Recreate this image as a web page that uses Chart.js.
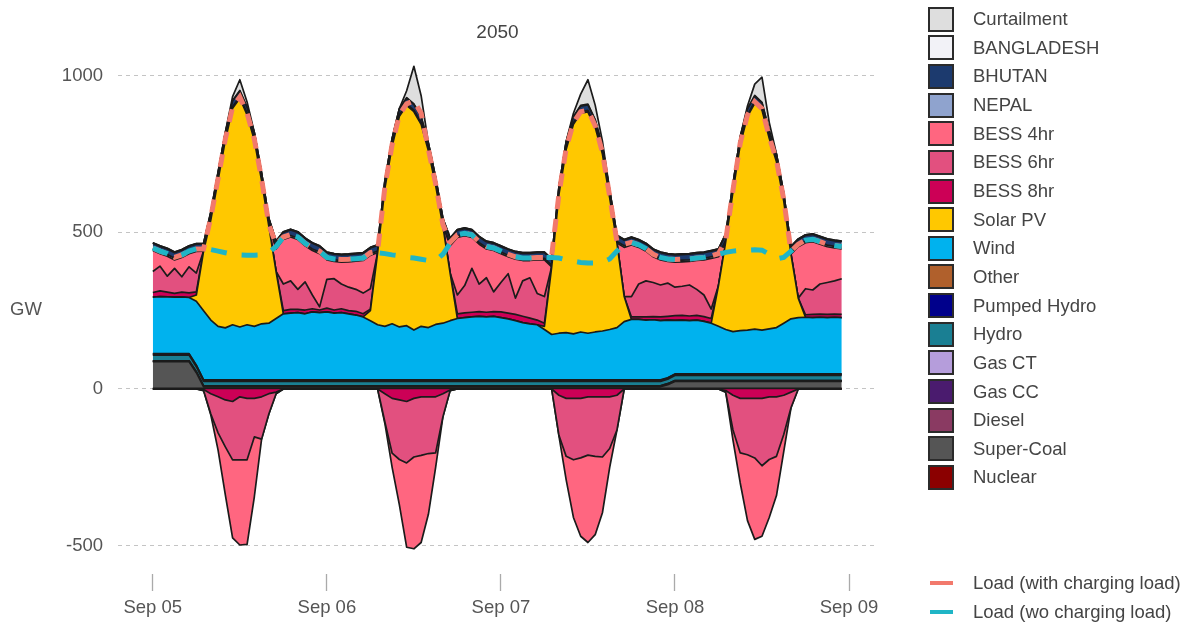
<!DOCTYPE html>
<html>
<head>
<meta charset="utf-8">
<script src="https://cdn.jsdelivr.net/npm/chart.js@4.4.1/dist/chart.umd.min.js"></script>
<style>
html,body{margin:0;padding:0;background:#ffffff;}
#wrap{position:relative;width:1191px;height:630px;overflow:hidden;font-family:"Liberation Sans",Arial,sans-serif;}
#c{position:absolute;left:0;top:0;}
#gw{position:absolute;left:10px;top:298px;font-size:18.5px;color:#555;}
.li{position:absolute;left:928px;height:25px;display:flex;align-items:center;white-space:nowrap;}
.sw{width:26px;height:25px;box-sizing:border-box;border:2px solid #2b2b2b;}
.tx{position:absolute;left:45px;font-size:18.5px;color:#444;}
.ln{width:23px;height:4px;}
</style>
</head>
<body>
<div id="wrap">
<canvas id="c" width="1191" height="630"></canvas>
<div id="gw">GW</div>
<div id="legend"></div>
</div>
<script>
// ---- categories: hourly steps from Sep 05 00:00 (hour index) ----
const hours = Array.from({length: 96}, (_, i) => i);
const tickHours = [0, 24, 48, 72, 96];
const tickLabels = ['Sep 05', 'Sep 06', 'Sep 07', 'Sep 08', 'Sep 09'];
const yTicks = [-500, 0, 500, 1000];
const yTickLabels = ['-500', '0', '500', '1000'];

// ---- series values (GW) ----
const nuclear = [
2,2,2,2,2,2,2,2,2,2,2,2, 2,2,2,2,2,2,2,2,2,2,2,2, 2,2,2,2,2,2,2,2,2,2,2,2, 2,2,2,2,2,2,2,2,2,2,2,2,
2,2,2,2,2,2,2,2,2,2,2,2, 2,2,2,2,2,2,2,2,2,2,2,2, 2,2,2,2,2,2,2,2,2,2,2,2, 2,2,2,2,2,2,2,2,2,2,2,2];
const superCoal = [
85,85,85,85,85,85,50,5,5,5,5,5, 5,5,5,5,5,5,5,5,5,5,5,5, 5,5,5,5,5,5,5,5,5,5,5,5, 5,5,5,5,5,5,5,5,5,5,5,5,
5,5,5,5,5,5,5,5,5,5,5,5, 5,5,5,5,5,5,5,5,5,5,5,12, 22,22,22,22,22,22,22,22,22,22,22,22, 22,22,22,22,22,22,22,22,22,22,22,22];
const diesel = [
1,1,1,1,1,1,1,1,1,1,1,1, 1,1,1,1,1,1,1,1,1,1,1,1, 1,1,1,1,1,1,1,1,1,1,1,1, 1,1,1,1,1,1,1,1,1,1,1,1,
1,1,1,1,1,1,1,1,1,1,1,1, 1,1,1,1,1,1,1,1,1,1,1,1, 1,1,1,1,1,1,1,1,1,1,1,1, 1,1,1,1,1,1,1,1,1,1,1,1];
const gasCC = [
2,2,2,2,2,2,2,2,2,2,2,2, 2,2,2,2,2,2,2,2,2,2,2,2, 2,2,2,2,2,2,2,2,2,2,2,2, 2,2,2,2,2,2,2,2,2,2,2,2,
2,2,2,2,2,2,2,2,2,2,2,2, 2,2,2,2,2,2,2,2,2,2,2,2, 2,2,2,2,2,2,2,2,2,2,2,2, 2,2,2,2,2,2,2,2,2,2,2,2];
const gasCT = [
0,0,0,0,0,0,0,0,0,0,0,0, 0,0,0,0,0,0,0,0,0,0,0,0, 0,0,0,0,0,0,0,0,0,0,0,0, 0,0,0,0,0,0,0,0,0,0,0,0,
0,0,0,0,0,0,0,0,0,0,0,0, 0,0,0,0,0,0,0,0,0,0,0,0, 0,0,0,0,0,0,0,0,0,0,0,0, 0,0,0,0,0,0,0,0,0,0,0,0];
const hydro = [
18,18,18,18,18,18,16,14,14,14,14,14, 14,14,14,14,14,14,14,14,14,14,14,14, 14,14,14,14,14,14,14,14,14,14,14,14, 14,14,14,14,14,14,14,14,14,14,14,14,
14,14,14,14,14,14,14,14,14,14,14,14, 14,14,14,14,14,14,14,14,14,14,14,14, 16,16,16,16,16,16,16,16,16,16,16,16, 16,16,16,16,16,16,16,16,16,16,16,16];
const pumpedHydro = [
4,4,4,4,4,4,4,4,4,4,4,4, 4,4,4,4,4,4,4,4,4,4,4,4, 4,4,4,4,4,4,4,4,4,4,4,4, 4,4,4,4,4,4,4,4,4,4,4,4,
4,4,4,4,4,4,4,4,4,4,4,4, 4,4,4,4,4,4,4,4,4,4,4,4, 4,4,4,4,4,4,4,4,4,4,4,4, 4,4,4,4,4,4,4,4,4,4,4,4];
const other = [
1,1,1,1,1,1,1,1,1,1,1,1, 1,1,1,1,1,1,1,1,1,1,1,1, 1,1,1,1,1,1,1,1,1,1,1,1, 1,1,1,1,1,1,1,1,1,1,1,1,
1,1,1,1,1,1,1,1,1,1,1,1, 1,1,1,1,1,1,1,1,1,1,1,1, 1,1,1,1,1,1,1,1,1,1,1,1, 1,1,1,1,1,1,1,1,1,1,1,1];
const wind = [
180,182,181,180,181,179,204,221,191,171,166,176,
169,176,171,179,181,196,211,213,215,211,217,215,
217,213,215,211,207,201,189,176,171,179,169,173,
159,171,167,177,181,189,196,199,201,203,201,203,
199,195,189,183,179,176,161,145,149,151,147,153,
149,153,156,161,167,186,193,193,191,192,189,184,
171,172,170,172,168,162,152,142,135,138,140,143,
140,144,148,162,176,180,181,180,181,180,181,180];
const solarPV = [
0,0,0,0,0,0,20,190,320,467,599,691,
730,670,594,457,310,150,0,0,0,0,0,0,
0,0,0,0,0,0,32,230,440,567,672,703,
697,645,564,444,310,152,0,0,0,0,0,0,
0,0,0,0,0,0,10,216,442,585,669,698,
706,653,565,420,270,80,0,0,0,0,0,0,
0,0,0,0,0,0,130,280,447,594,682,721,
702,608,529,390,206,62,0,0,0,0,0,0];
const bess8 = [
15,18,15,12,15,15,10,0,0,0,0,0,
0,0,0,0,0,0,10,12,10,12,10,8,
12,10,12,10,12,10,5,0,0,0,0,0,
0,0,0,0,0,0,15,15,15,15,15,15,
18,18,20,20,18,15,10,0,0,0,0,0,
0,0,0,0,0,0,8,8,10,10,12,12,
15,15,15,15,15,15,0,0,0,0,0,0,
0,0,0,0,0,0,8,10,10,10,10,10];
const bess6 = [
67,79,51,80,49,83,60,0,0,0,0,0,
0,0,0,0,0,0,85,91,64,90,44,10,
92,100,79,75,70,66,65,0,0,0,0,0,
0,0,0,0,0,0,60,87,140,88,110,63,
94,126,52,113,129,85,85,0,0,0,0,0,
0,0,0,0,0,0,65,105,115,109,102,106,
91,93,99,83,69,30,0,0,0,0,0,0,
0,0,0,0,0,0,83,78,96,102,106,114];
const bess4 = [
67,40,64,27,62,42,69,0,0,0,0,0,
0,0,0,0,0,72,142,140,159,115,142,170,
62,55,70,81,90,104,107,0,0,0,0,0,
0,0,0,0,0,87,184,159,99,127,92,132,
92,54,124,65,55,107,117,0,0,0,0,0,
0,0,0,0,0,157,165,117,95,82,80,69,
80,78,75,92,112,162,92,0,0,0,0,0,
0,0,0,0,0,164,147,154,127,114,105,95];
const nepal = [
5,5,5,5,5,5,5,5,5,5,5,5, 5,5,5,5,5,5,5,5,5,5,5,5, 5,5,5,5,5,5,5,5,5,5,5,5, 5,5,5,5,5,5,5,5,5,5,5,5,
5,5,5,5,5,5,5,5,5,5,5,5, 5,5,5,5,5,5,5,5,5,5,5,5, 5,5,5,5,5,5,5,5,5,5,5,5, 5,5,5,5,5,5,5,5,5,5,5,5];
const bhutan = [
18,18,18,18,18,18,18,18,18,18,18,18, 18,18,18,18,18,18,18,18,18,18,18,18, 18,18,18,18,18,18,18,18,18,18,18,18, 18,18,18,18,18,18,18,18,18,18,18,18,
18,18,18,18,18,18,18,18,18,18,18,18, 18,18,18,18,18,18,18,18,18,18,18,18, 18,18,18,18,18,18,18,18,18,18,18,18, 18,18,18,18,18,18,18,18,18,18,18,18];
const bangladesh = [
2,2,2,2,2,2,2,2,2,2,2,2, 2,2,2,2,2,2,2,2,2,2,2,2, 2,2,2,2,2,2,2,2,2,2,2,2, 2,2,2,2,2,2,2,2,2,2,2,2,
2,2,2,2,2,2,2,2,2,2,2,2, 2,2,2,2,2,2,2,2,2,2,2,2, 2,2,2,2,2,2,2,2,2,2,2,2, 2,2,2,2,2,2,2,2,2,2,2,2];
const curtailment = [
0,0,0,0,0,0,0,0,0,0,0,12,
34,16,0,0,0,0,0,0,0,0,0,0,
0,0,0,0,0,0,0,0,0,0,0,22,
120,66,0,0,0,0,0,0,0,0,0,0,
0,0,0,0,0,0,0,0,0,0,10,36,
78,46,16,0,0,0,0,0,0,0,0,0,
0,0,0,0,0,0,0,0,0,0,8,36,
80,26,0,0,0,0,0,0,0,0,0,0];
// battery charging (negative)
const charge8 = [
0,0,0,0,0,0,0,-2,-15,-25,-35,-40,
-25,-30,-30,-25,-15,-10,0,0,0,0,0,0,
0,0,0,0,0,0,0,0,-15,-30,-35,-40,
-30,-25,-25,-25,-15,-3,0,0,0,0,0,0,
0,0,0,0,0,0,0,0,-20,-30,-30,-30,
-25,-25,-25,-25,-20,0,0,0,0,0,0,0,
0,0,0,0,0,0,0,-5,-20,-30,-30,-30,
-30,-25,-25,-20,-10,0,0,0,0,0,0,0];
const charge6 = [
0,0,0,0,0,0,0,-3,-65,-115,-150,-186,
-201,-196,-123,-135,-65,-5,0,0,0,0,0,0,
0,0,0,0,0,0,0,0,-90,-175,-190,-196,
-187,-187,-181,-179,-74,-2,0,0,0,0,0,0,
0,0,0,0,0,0,0,0,-128,-185,-196,-190,
-186,-190,-192,-165,-111,0,0,0,0,0,0,0,
0,0,0,0,0,0,0,-5,-111,-174,-180,-190,
-215,-200,-190,-125,-50,0,0,0,0,0,0,0];
const charge4 = [
0,0,0,0,0,0,0,0,-3,-55,-153,-249,
-272,-270,-191,0,0,0,0,0,0,0,0,0,
0,0,0,0,0,0,0,0,-5,-45,-145,-269,
-293,-278,-194,-46,0,0,0,0,0,0,0,0,
0,0,0,0,0,0,0,0,-2,-75,-184,-250,
-279,-250,-178,-60,0,0,0,0,0,0,0,0,
0,0,0,0,0,0,0,0,-32,-96,-210,-260,
-225,-185,-125,-55,0,0,0,0,0,0,0,0];
const loadWithCharging = [
450,440,432,420,428,440,447,447,548,672,798,900,
932,880,798,670,525,462,485,493,485,465,450,440,
420,415,413,414,416,418,435,440,645,780,875,910,
920,880,765,655,525,468,492,497,492,470,455,450,
440,430,422,418,418,420,420,425,622,768,850,885,
890,840,755,615,470,462,468,460,448,430,420,415,
413,414,415,418,420,425,432,475,635,785,875,917,
895,805,730,605,440,462,475,478,470,462,458,455];
const loadWoCharging = [
450,440,432,420,428,440,447,447,445,440,435,430,
428,427,427,428,435,455,485,493,485,465,450,440,
420,415,413,414,416,418,435,435,432,428,425,420,
418,414,410,410,430,465,492,497,492,470,455,450,
440,430,422,418,418,420,420,420,418,412,408,404,
402,402,404,415,440,460,468,460,448,430,420,415,
413,414,415,418,420,425,430,436,440,442,443,444,
443,430,415,420,440,462,475,478,470,462,458,455];

// ---- series definitions (bottom of stack first) ----
const stackSeries = [
  {name: 'Nuclear', data: nuclear, color: '#8B0000'},
  {name: 'Super-Coal', data: superCoal, color: '#555555'},
  {name: 'Diesel', data: diesel, color: '#8A3A62'},
  {name: 'Gas CC', data: gasCC, color: '#4A1B6E'},
  {name: 'Gas CT', data: gasCT, color: '#B59DDB'},
  {name: 'Hydro', data: hydro, color: '#1A7F93'},
  {name: 'Pumped Hydro', data: pumpedHydro, color: '#00008B'},
  {name: 'Other', data: other, color: '#B0602C'},
  {name: 'Wind', data: wind, color: '#00B2EE'},
  {name: 'Solar PV', data: solarPV, color: '#FFC800'},
  {name: 'BESS 8hr', data: bess8, color: '#CC0056'},
  {name: 'BESS 6hr', data: bess6, color: '#E2507F'},
  {name: 'BESS 4hr', data: bess4, color: '#FF6680'},
  {name: 'NEPAL', data: nepal, color: '#8FA3CE'},
  {name: 'BHUTAN', data: bhutan, color: '#1C3A6E'},
  {name: 'BANGLADESH', data: bangladesh, color: '#F2F2F7'},
  {name: 'Curtailment', data: curtailment, color: '#DEDEDE'}
];
const chargeSeries = [
  {name: 'BESS 8hr', data: charge8, color: '#CC0056'},
  {name: 'BESS 6hr', data: charge6, color: '#E2507F'},
  {name: 'BESS 4hr', data: charge4, color: '#FF6680'}
];
const loadSeries = [
  {name: 'Load (with charging load)', data: loadWithCharging, color: '#F2796C', dash: [13, 10]},
  {name: 'Load (wo charging load)', data: loadWoCharging, color: '#1FB5C6', dash: [16, 15]}
];

const toXY = arr => hours.map((h, i) => ({x: h, y: arr[i]}));
const datasets = [];
stackSeries.forEach((s, i) => datasets.push({
  label: s.name, data: toXY(s.data), stack: 'pos', fill: i === 0 ? 'origin' : '-1',
  backgroundColor: s.color, borderColor: '#1b1b1b', borderWidth: 1.7,
  borderJoinStyle: 'round', pointRadius: 0, tension: 0, order: 0
}));
chargeSeries.forEach((s, i) => datasets.push({
  label: s.name + ' charging', data: toXY(s.data), stack: 'neg', fill: i === 0 ? 'origin' : '-1',
  backgroundColor: s.color, borderColor: '#1b1b1b', borderWidth: 1.7,
  borderJoinStyle: 'round', pointRadius: 0, tension: 0, order: 0
}));
loadSeries.forEach((s, i) => datasets.push({
  label: s.name, data: toXY(s.data), stack: 'load' + i, fill: false,
  borderColor: s.color, borderWidth: 5, borderDash: s.dash, borderCapStyle: 'butt',
  pointRadius: 0, tension: 0, order: -1 - i
}));

Chart.defaults.font.family = '"Liberation Sans", Arial, sans-serif';

new Chart(document.getElementById('c'), {
  type: 'line',
  data: {datasets},
  options: {
    responsive: false, animation: false, devicePixelRatio: 1,
    layout: {padding: {left: 0, right: 314, top: 0, bottom: 0}},
    plugins: {
      legend: {display: false}, tooltip: {enabled: false},
      title: {display: true, text: '2050', fullSize: false, color: '#444',
        font: {size: 19, weight: 'normal'}, padding: {top: 21, bottom: 9}}
    },
    scales: {
      x: {
        type: 'linear', min: -4.8, max: 99.86,
        afterBuildTicks: s => { s.ticks = tickHours.map(v => ({value: v})); },
        afterFit: s => { s.height = 56; },
        ticks: {color: '#555', font: {size: 18.5}, padding: 6, maxRotation: 0, autoSkip: false,
          callback: v => tickLabels[tickHours.indexOf(v)] ?? ''},
        grid: {display: true, drawOnChartArea: false, drawTicks: true, tickLength: 17,
          tickColor: '#aaaaaa', tickWidth: 1.3},
        border: {display: false}
      },
      y: {
        stacked: true, min: -590.5, max: 1073,
        afterBuildTicks: s => { s.ticks = yTicks.map(v => ({value: v})); },
        afterFit: s => { s.width = 118; },
        ticks: {color: '#555', font: {size: 18.5}, padding: 15,
          callback: v => yTickLabels[yTicks.indexOf(v)] ?? ''},
        grid: {color: '#c4c4c4', lineWidth: 1, drawTicks: false},
        border: {display: false, dash: [4, 4]}
      }
    }
  }
});

// ---- legend (HTML) ----
const legend = document.getElementById('legend');
const legendItems = stackSeries.slice().reverse();
legendItems.forEach((s, i) => {
  const d = document.createElement('div');
  d.className = 'li';
  d.style.top = (19.2 + i * 28.64 - 12.5) + 'px';
  d.innerHTML = '<div class="sw" style="background:' + s.color + '"></div><span class="tx">' + s.name + '</span>';
  legend.appendChild(d);
});
const loadTops = [583, 612];
loadSeries.forEach((s, i) => {
  const d = document.createElement('div');
  d.className = 'li';
  d.style.top = (loadTops[i] - 12.5) + 'px';
  d.style.left = '930px';
  d.innerHTML = '<div class="ln" style="background:' + s.color + '"></div><span class="tx" style="left:43px">' + s.name + '</span>';
  legend.appendChild(d);
});
</script>
</body>
</html>
